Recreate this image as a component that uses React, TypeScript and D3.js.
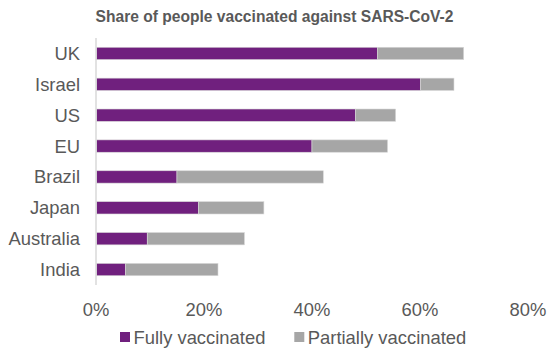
import React from "react";
import * as d3 from "d3";

const countries = ["UK", "Israel", "US", "EU", "Brazil", "Japan", "Australia", "India"];
const fullyVaccinated = [52.0, 60.0, 48.0, 39.9, 14.9, 18.9, 9.4, 5.4];
const partiallyVaccinated = [16.0, 6.2, 7.4, 14.0, 27.1, 12.1, 18.0, 17.1];
const xTicks = [0, 20, 40, 60, 80];
const seriesNames = ["Fully vaccinated", "Partially vaccinated"];

const W = 548;
const H = 351;
const PURPLE = "#70207e";
const GREY = "#a6a6a6";
const TEXT = "#595959";
const FONT = "'Liberation Sans', Arial, sans-serif";
const FS = 18.4;

export default function App() {
  const x = d3.scaleLinear().domain([0, 80]).range([96, 528]);
  const y = d3.scaleBand<string>().domain(countries).range([38, 285]).paddingInner(0.6).paddingOuter(0.3);

  const rows = countries.map((c, i) => ({
    c,
    full: fullyVaccinated[i],
    part: partiallyVaccinated[i],
  }));

  return (
    <svg
      width={W}
      height={H}
      style={{ position: "absolute", left: 0, top: 0, background: "#fff" }}
      fontFamily={FONT}
    >
      <text x={274.5} y={21.5} textAnchor="middle" fontSize={15.6} fontWeight="bold" fill={TEXT}>
        Share of people vaccinated against SARS-CoV-2
      </text>

      {rows.map((r) => {
        const y0 = y(r.c)!;
        const bh = y.bandwidth();
        return (
          <g key={r.c}>
            <rect
              x={x(0) + 0.5}
              y={y0}
              width={x(r.full) - x(0)}
              height={bh}
              fill={PURPLE}
              stroke="#d9d9d9"
              strokeWidth={0.6}
            />
            <rect
              x={x(r.full) + 0.5}
              y={y0}
              width={x(r.full + r.part) - x(r.full)}
              height={bh}
              fill={GREY}
              stroke="#d9d9d9"
              strokeWidth={0.6}
            />
            <text
              x={80}
              y={y0 + bh / 2}
              dy="0.35em"
              textAnchor="end"
              fontSize={FS}
              fill={TEXT}
            >
              {r.c}
            </text>
          </g>
        );
      })}

      <line x1={x(0)} x2={x(0)} y1={38} y2={285} stroke="#d9d9d9" strokeWidth={1.5} />

      {xTicks.map((t) => (
        <text key={t} x={x(t)} y={316} textAnchor="middle" fontSize={FS} fill={TEXT}>
          {`${t}%`}
        </text>
      ))}

      <g>
        <rect x={120} y={332} width={10} height={10} fill={PURPLE} />
        <text x={133.5} y={343.5} fontSize={FS} fill={TEXT}>
          {seriesNames[0]}
        </text>
        <rect x={294.3} y={332} width={10} height={10} fill={GREY} />
        <text x={307.8} y={343.5} fontSize={FS} fill={TEXT}>
          {seriesNames[1]}
        </text>
      </g>
    </svg>
  );
}
